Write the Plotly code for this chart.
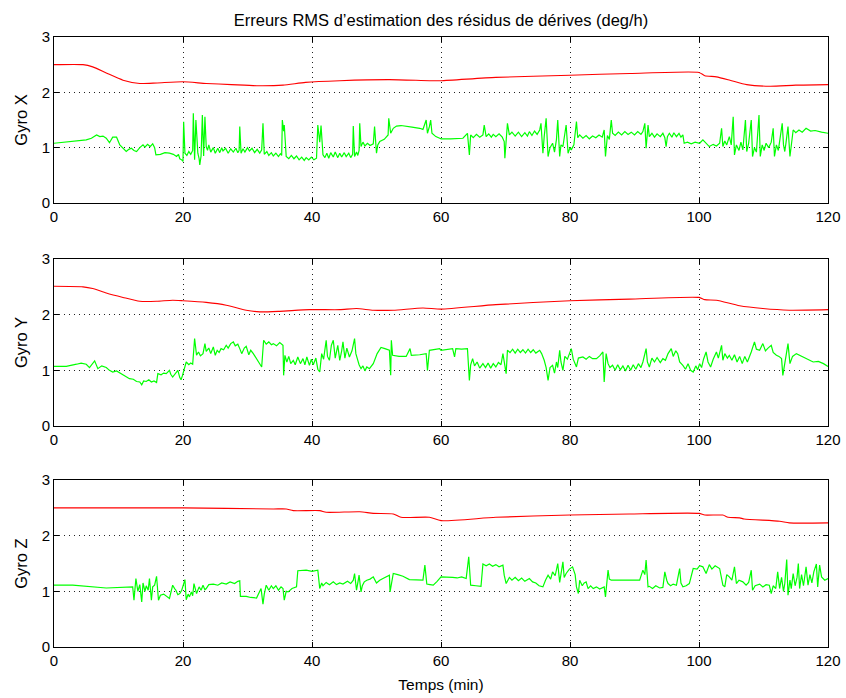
import plotly.graph_objects as go

# ---------------- data ----------------
x_ticks = [0, 20, 40, 60, 80, 100, 120]
y_ticks = [0, 1, 2, 3]
gyro_names = ["Gyro X", "Gyro Y", "Gyro Z"]
title_text = "Erreurs RMS d’estimation des résidus de dérives (deg/h)"
x_title = "Temps (min)"

# red curves (theoretical RMS)
rx_t = [0, 4.5, 6, 8.1, 10.7, 13.3, 16, 20, 23.6, 27.5, 31.4, 35.5, 39, 44.3, 52, 58.2, 60, 68.5, 80, 89.3, 100, 100.9, 102.7, 104.8, 107.4, 111, 115, 120]
rx_v = [2.50, 2.50, 2.46, 2.35, 2.22, 2.16, 2.17, 2.19, 2.16, 2.14, 2.12, 2.13, 2.18, 2.21, 2.23, 2.21, 2.21, 2.27, 2.31, 2.34, 2.36, 2.30, 2.28, 2.22, 2.14, 2.11, 2.13, 2.14]

ry_t = [0, 4.5, 6, 8.1, 10.7, 13.3, 15.9, 18.4, 20, 23.6, 26.7, 29.8, 31.9, 35, 39.6, 44.3, 46.9, 49.5, 52.6, 57.2, 60, 68.5, 80, 89.2, 100, 100.9, 102.7, 106.3, 109.9, 114, 120]
ry_v = [2.51, 2.50, 2.47, 2.39, 2.31, 2.24, 2.24, 2.26, 2.25, 2.22, 2.17, 2.08, 2.05, 2.06, 2.09, 2.09, 2.11, 2.08, 2.08, 2.12, 2.10, 2.18, 2.25, 2.28, 2.31, 2.27, 2.26, 2.16, 2.11, 2.08, 2.09]

rz_t = [0, 20, 34, 36, 37.1, 41.2, 42.2, 47.4, 49.5, 52.6, 53.8, 58.2, 60, 68.5, 80, 89.2, 100, 100.9, 103.7, 104.5, 106.3, 107, 112.5, 114, 120]
rz_v = [2.50, 2.50, 2.48, 2.48, 2.45, 2.45, 2.42, 2.43, 2.40, 2.39, 2.33, 2.33, 2.27, 2.33, 2.37, 2.39, 2.40, 2.37, 2.37, 2.33, 2.32, 2.30, 2.26, 2.23, 2.23]

# green curves (estimated RMS errors), (time, value) pairs
gx_pts = [
    (0, 1.08), (1.5, 1.10), (2.9, 1.11), (4, 1.12), (5, 1.14), (5.8, 1.17), (6.6, 1.23), (7.1, 1.20), (7.6, 1.21), (8.1, 1.17),
    (8.6, 1.09), (9.1, 1.19), (9.7, 1.19), (10.2, 1.05), (10.7, 0.99), (11.2, 0.93), (11.6, 0.97), (12, 0.99), (12.4, 0.95),
    (12.8, 0.93), (13.3, 1.00), (13.8, 1.05), (14.1, 1.01), (14.5, 1.06), (14.9, 1.02), (15.3, 1.07), (15.6, 1.00), (15.8, 0.87),
    (16.5, 0.88), (17.2, 0.91), (17.9, 0.90), (18.5, 0.88), (19, 0.84), (19.3, 0.88), (19.5, 0.80), (19.8, 0.78), (20, 0.75),
    (20.1, 1.47), (20.3, 0.90), (20.6, 0.86), (20.9, 0.93), (21.2, 0.88), (21.5, 0.95), (21.6, 1.62), (21.8, 0.78), (22.0, 1.50),
    (22.2, 1.10), (22.3, 0.90), (22.5, 0.80), (22.6, 0.69), (22.8, 0.85), (23.0, 1.59), (23.2, 0.85), (23.4, 1.56), (23.6, 1.02),
    (23.8, 0.95), (24.0, 1.05), (24.3, 0.92), (24.7, 1.00), (25.0, 0.90), (25.4, 0.99), (25.7, 0.91), (26.0, 1.00), (26.2, 0.94),
    (26.6, 0.99), (27, 0.90), (27.4, 0.98), (27.8, 0.92), (28.2, 0.99), (28.5, 0.91), (28.7, 0.95), (28.8, 1.38), (29.0, 0.90),
    (29.3, 0.98), (29.6, 0.92), (30.0, 1.00), (30.3, 0.94), (30.7, 0.99), (31.1, 0.91), (31.5, 0.97), (31.9, 0.90), (32.2, 0.96),
    (32.4, 1.44), (32.6, 0.88), (33.0, 0.93), (33.3, 0.86), (33.7, 0.91), (34, 0.85), (34.4, 0.90), (34.8, 0.84), (35.1, 0.89),
    (35.3, 0.86), (35.4, 1.50), (35.6, 1.30), (35.7, 1.41), (36.0, 0.84), (36.4, 0.80), (36.8, 0.86), (37.2, 0.80), (37.6, 0.85),
    (38.0, 0.78), (38.4, 0.83), (38.8, 0.77), (39.1, 0.82), (39.5, 0.78), (39.9, 0.83), (40.3, 0.78), (40.7, 0.81), (40.9, 1.41),
    (41.2, 1.10), (41.4, 1.40), (41.7, 0.87), (42.0, 0.82), (42.3, 0.90), (42.6, 0.81), (42.9, 0.91), (43.3, 0.83), (43.6, 0.92),
    (44.0, 0.82), (44.3, 0.90), (44.6, 0.83), (45.0, 0.91), (45.3, 0.84), (45.7, 0.90), (46.0, 0.82), (46.3, 0.88), (46.4, 1.39),
    (46.6, 0.84), (46.9, 0.92), (47.1, 0.86), (47.3, 0.95), (47.4, 1.44), (47.6, 1.02), (47.9, 1.10), (48.2, 1.03), (48.6, 1.08),
    (49.0, 1.04), (49.5, 1.07), (49.7, 1.38), (50, 0.90), (50.2, 1.05), (50.5, 1.11), (51.2, 1.15), (51.8, 1.23), (51.9, 1.53),
    (52.2, 1.26), (52.6, 1.35), (53.1, 1.39), (53.8, 1.40), (54.6, 1.38), (55.5, 1.37), (56.7, 1.35), (57.2, 1.33), (57.7, 1.50),
    (57.9, 1.26), (58.2, 1.38), (58.4, 1.50), (58.6, 1.26), (59.2, 1.20), (59.8, 1.17),
    (60, 1.16), (61.5, 1.16), (63.4, 1.17), (64.1, 1.26), (64.4, 0.87), (64.6, 1.23), (65.0, 1.18), (65.5, 1.24), (66.0, 1.19),
    (66.5, 1.23), (66.7, 1.41), (67, 1.20), (67.4, 1.25), (67.8, 1.19), (68.1, 1.24), (68.5, 1.20), (69.0, 1.25), (69.5, 1.19),
    (69.8, 1.11), (69.9, 0.81), (70.3, 1.44), (70.6, 1.23), (71.0, 1.28), (71.5, 1.21), (72.0, 1.28), (72.5, 1.20), (73.0, 1.27),
    (73.4, 1.21), (73.7, 1.29), (74.1, 1.22), (74.5, 1.30), (74.9, 1.24), (75.3, 1.32), (75.5, 1.44), (75.8, 0.90), (76.0, 1.20),
    (76.3, 1.53), (76.6, 0.84), (76.9, 1.00), (77.3, 1.08), (77.6, 0.92), (77.9, 1.15), (78.1, 1.50), (78.4, 0.84), (78.6, 1.05),
    (78.9, 1.02), (79.1, 1.20), (79.4, 1.41), (79.7, 0.90), (80.0, 1.00), (80.2, 0.96), (80.6, 1.05), (81, 1.47), (81.2, 1.18),
    (81.5, 1.23), (82.0, 1.17), (82.5, 1.22), (83.0, 1.16), (83.5, 1.21), (84, 1.18), (84.5, 1.23), (85.0, 1.19), (85.3, 1.32),
    (85.5, 0.84), (85.8, 1.22), (86.1, 1.15), (86.4, 1.50), (86.6, 1.26), (87.0, 1.22), (87.5, 1.28), (88.0, 1.23), (88.5, 1.29),
    (89.0, 1.24), (89.5, 1.28), (90.0, 1.23), (90.5, 1.29), (91.0, 1.24), (91.3, 1.29), (91.6, 1.44), (91.8, 0.99), (92.1, 1.41),
    (92.3, 1.20), (92.7, 1.26), (93.1, 1.19), (93.5, 1.25), (94.0, 1.20), (94.4, 1.26), (94.7, 1.18), (94.9, 1.02), (95.1, 1.20),
    (95.4, 1.26), (95.8, 1.19), (96.1, 1.27), (96.5, 1.20), (96.9, 1.26), (97.2, 1.19), (97.5, 1.23), (97.7, 1.08), (98.2, 1.10),
    (98.8, 1.07), (99.4, 1.10), (100.1, 1.08), (100.6, 1.14), (101.1, 1.08), (101.6, 1.02), (102.2, 1.06), (102.7, 1.03),
    (103.2, 1.08), (103.5, 1.35), (103.7, 1.02), (104.0, 1.12), (104.3, 1.05), (104.7, 1.20), (105.0, 1.05), (105.3, 1.56),
    (105.5, 0.87), (105.8, 1.05), (106.2, 0.95), (106.5, 1.10), (106.8, 0.96), (107.2, 1.50), (107.4, 0.93), (107.7, 1.08),
    (108.1, 1.50), (108.3, 0.84), (108.6, 1.00), (108.9, 0.92), (109.3, 1.59), (109.5, 0.84), (109.8, 1.05), (110.1, 0.95),
    (110.4, 1.08), (110.8, 1.00), (111.2, 1.10), (111.5, 1.35), (111.7, 0.84), (112.0, 1.05), (112.3, 0.95), (112.5, 1.14),
    (112.9, 1.44), (113.1, 1.05), (113.3, 0.93), (113.5, 1.10), (113.8, 1.38), (114.1, 0.84), (114.4, 1.10), (114.6, 1.32),
    (115.0, 1.27), (115.5, 1.32), (116.0, 1.28), (116.6, 1.35), (117.3, 1.30), (118, 1.31), (119, 1.28), (120, 1.26),
]

gy_pts = [
    (0, 1.07), (1.9, 1.07), (3.5, 1.11), (4.2, 1.13), (5, 1.11), (5.5, 1.05), (6.3, 1.17), (6.8, 1.03), (7.4, 1.08), (8.1, 1.05),
    (8.6, 1.00), (9.1, 0.97), (9.7, 0.99), (10.4, 0.94), (11.0, 0.90), (11.7, 0.85), (12.3, 0.84), (12.8, 0.80), (13.3, 0.79),
    (13.6, 0.74), (13.9, 0.81), (14.3, 0.80), (14.7, 0.83), (15.1, 0.79), (15.5, 0.81), (15.9, 0.78), (16.1, 0.94), (16.6, 0.92),
    (17.0, 0.95), (17.4, 0.94), (17.9, 1.00), (18.1, 0.93), (18.4, 0.88), (18.8, 0.95), (19.2, 1.00), (19.5, 0.87), (19.7, 0.83),
    (19.9, 0.90), (20.1, 0.97), (20.3, 1.05), (20.5, 1.15), (20.9, 1.10), (21.2, 1.13), (21.5, 1.11), (21.8, 1.57), (22.1, 1.27),
    (22.4, 1.33), (22.7, 1.26), (23.1, 1.30), (23.4, 1.48), (23.6, 1.34), (24.0, 1.40), (24.3, 1.30), (24.7, 1.42), (25.0, 1.27),
    (25.3, 1.36), (25.6, 1.32), (25.9, 1.39), (26.3, 1.37), (26.7, 1.45), (27.0, 1.40), (27.4, 1.48), (27.8, 1.51), (28.1, 1.44),
    (28.5, 1.47), (28.8, 1.39), (29.1, 1.30), (29.5, 1.40), (29.8, 1.43), (30.2, 1.28), (30.5, 1.36), (30.9, 1.30), (31.3, 1.22),
    (31.6, 1.18), (31.9, 1.11), (32.2, 1.06), (32.5, 1.54), (32.9, 1.47), (33.3, 1.51), (33.7, 1.46), (34, 1.48), (34.5, 1.44),
    (35.0, 1.50), (35.5, 1.45), (35.6, 0.91), (35.8, 1.27), (36.1, 1.15), (36.4, 1.25), (36.7, 1.12), (37.1, 1.18), (37.4, 1.10),
    (37.8, 1.24), (38.2, 1.12), (38.6, 1.21), (38.9, 1.10), (39.2, 1.24), (39.6, 1.09), (39.9, 1.20), (40.2, 1.10), (40.6, 1.22),
    (40.9, 1.02), (41.2, 0.97), (41.5, 1.30), (41.8, 1.20), (42.2, 1.54), (42.4, 1.25), (42.7, 1.18), (43.0, 1.45), (43.3, 1.54),
    (43.6, 1.22), (44.0, 1.45), (44.3, 1.18), (44.6, 1.35), (44.8, 1.51), (45.1, 1.22), (45.4, 1.40), (45.8, 1.24), (46.2, 1.35),
    (46.6, 1.57), (46.8, 1.30), (47.1, 1.18), (47.3, 1.10), (47.6, 1.03), (47.9, 1.08), (48.2, 0.99), (48.5, 1.06), (48.9, 1.03),
    (49.2, 1.08), (49.5, 1.12), (50.1, 1.30), (50.7, 1.41), (51.3, 1.39), (52, 1.36), (52.2, 0.91), (52.3, 1.54), (52.5, 1.27),
    (53.5, 1.25), (54.6, 1.25), (55.2, 1.39), (55.4, 1.27), (55.7, 1.27), (56.7, 1.28), (57.7, 1.30), (57.9, 1.00), (58.2, 1.36),
    (59, 1.38), (59.8, 1.39),
    (60, 1.36), (61.8, 1.39), (62.1, 1.24), (62.3, 1.39), (63.2, 1.38), (64.1, 1.39), (64.4, 0.82), (64.6, 1.10), (64.9, 1.21),
    (65.2, 1.08), (65.6, 1.15), (66.0, 1.04), (66.5, 1.12), (66.9, 1.05), (67.3, 1.13), (67.7, 1.04), (68.1, 1.12), (68.5, 1.06),
    (68.9, 1.14), (69.3, 1.10), (69.6, 1.30), (70.1, 0.94), (70.3, 1.36), (70.7, 1.32), (71.1, 1.38), (71.5, 1.31), (71.9, 1.38),
    (72.3, 1.32), (72.7, 1.37), (73.1, 1.31), (73.5, 1.38), (73.9, 1.32), (74.3, 1.37), (74.7, 1.31), (75.3, 1.36), (75.6, 1.30),
    (76, 1.18), (76.3, 1.05), (76.6, 0.82), (76.9, 1.05), (77.3, 1.09), (77.6, 0.95), (77.9, 1.15), (78.1, 1.05), (78.4, 1.36),
    (78.6, 1.15), (78.9, 1.00), (79.2, 1.25), (79.6, 1.20), (80.0, 1.32), (80.2, 1.39), (80.5, 1.20), (81, 1.06), (81.3, 1.22),
    (82, 1.24), (82.5, 1.20), (83.0, 1.25), (83.5, 1.21), (84.1, 1.21), (84.6, 1.26), (85.1, 1.33), (85.3, 0.79), (85.6, 1.30),
    (85.9, 1.12), (86.2, 1.05), (86.6, 1.09), (87.0, 1.00), (87.4, 1.10), (87.8, 1.01), (88.2, 1.08), (88.6, 0.99), (89.0, 1.09),
    (89.4, 1.00), (89.8, 1.10), (90.2, 1.02), (90.6, 1.12), (91.0, 1.05), (91.3, 1.15), (91.8, 1.39), (92.0, 1.15), (92.3, 1.06),
    (92.7, 1.22), (93.1, 1.15), (93.5, 1.23), (94.0, 1.14), (94.4, 1.21), (94.8, 1.18), (95.2, 1.30), (95.7, 1.39), (96.0, 1.25),
    (96.4, 1.35), (96.7, 1.30), (97.0, 1.15), (97.5, 1.09), (97.9, 1.02), (98.3, 1.12), (98.7, 1.00), (99.1, 0.97), (99.5, 1.08),
    (99.8, 1.01), (100.1, 1.12), (100.4, 1.05), (100.7, 1.20), (101.1, 1.33), (101.4, 1.15), (101.8, 1.06), (102.2, 1.20),
    (102.7, 1.33), (103.0, 1.22), (103.5, 1.45), (103.7, 1.18), (104.0, 1.30), (104.4, 1.22), (104.7, 1.27), (105.1, 1.18),
    (105.5, 1.28), (105.9, 1.15), (106.3, 1.25), (106.7, 1.12), (107.1, 1.25), (107.5, 1.15), (108.1, 1.33), (108.6, 1.51),
    (108.9, 1.38), (109.4, 1.36), (109.9, 1.48), (110.3, 1.35), (110.7, 1.40), (111.2, 1.45), (111.5, 1.32), (112, 1.27),
    (112.4, 1.25), (112.8, 1.21), (113, 0.91), (113.3, 1.15), (113.8, 1.48), (114.1, 1.12), (114.5, 1.25), (115.1, 1.30),
    (115.8, 1.26), (116.6, 1.21), (117.2, 1.18), (117.7, 1.15), (118.5, 1.16), (119.3, 1.12), (120, 1.07),
]

gz_pts = [
    (0, 1.11), (2.9, 1.11), (8.1, 1.06), (11.7, 1.07), (12.2, 1.08), (12.4, 0.84), (12.7, 1.23), (13.0, 1.00), (13.3, 1.12),
    (13.6, 0.81), (13.8, 1.15), (14.1, 1.00), (14.3, 1.10), (14.6, 1.02), (14.8, 1.23), (15.1, 0.84), (15.3, 1.08), (15.6, 1.11),
    (15.9, 1.27), (16.2, 0.84), (16.5, 0.93), (17.0, 0.95), (17.4, 0.92), (17.9, 0.87), (18.1, 0.97), (18.4, 1.11), (18.7, 1.05),
    (18.9, 1.02), (19.2, 0.94), (19.5, 0.96), (19.8, 1.02), (20.3, 1.21), (20.5, 0.85), (20.8, 0.95), (21.0, 0.90), (21.3, 0.99),
    (21.5, 0.92), (21.7, 1.14), (21.9, 1.05), (22.1, 0.96), (22.5, 1.08), (22.8, 1.02), (23.1, 1.11), (23.4, 1.03), (23.6, 1.05),
    (24.0, 1.12), (24.7, 1.13), (25.4, 1.11), (26.0, 1.15), (26.7, 1.13), (27.3, 1.17), (28.0, 1.14), (28.5, 1.18), (28.8, 1.19),
    (28.9, 0.91), (29.8, 0.91), (30.5, 0.89), (31.4, 0.88), (32.1, 1.05), (32.4, 0.77), (32.6, 0.95), (32.9, 1.11), (33.3, 1.02),
    (33.7, 1.10), (34, 1.05), (34.4, 1.10), (34.8, 1.02), (35.2, 1.08), (35.5, 1.05), (35.7, 0.84), (36.0, 1.00), (36.3, 0.99),
    (36.9, 1.05), (37.6, 1.08), (37.8, 1.37), (39.1, 1.38), (40.0, 1.36), (40.9, 1.38), (41.2, 1.05), (41.5, 1.15), (41.7, 1.10),
    (42.2, 1.16), (42.7, 1.12), (43.3, 1.17), (43.8, 1.12), (44.3, 1.15), (44.8, 1.13), (45.5, 1.18), (46.0, 1.14), (46.4, 1.20),
    (46.6, 1.32), (46.9, 1.02), (47.1, 1.15), (47.3, 1.29), (47.6, 0.99), (47.8, 1.10), (48.1, 1.17), (48.5, 1.20), (49.0, 1.22),
    (49.5, 1.26), (50, 1.15), (50.5, 1.20), (51.0, 1.23), (51.5, 1.26), (52, 1.29), (52.1, 0.99), (52.6, 1.32), (53.3, 1.30),
    (54.1, 1.27), (55.1, 1.21), (56.2, 1.21), (57.2, 1.20), (57.5, 1.47), (57.8, 1.13), (58.3, 1.12), (58.8, 1.11), (59.4, 1.18),
    (60, 1.26), (61.8, 1.25), (62.5, 1.24), (63.2, 1.26), (63.9, 1.23), (64.3, 1.62), (64.6, 1.11), (65.4, 1.10), (66.2, 1.09),
    (66.5, 1.49), (67.0, 1.46), (67.5, 1.49), (68.0, 1.45), (68.5, 1.48), (69.0, 1.44), (69.6, 1.47), (69.8, 1.29), (70.1, 1.14),
    (70.6, 1.25), (71.0, 1.20), (71.5, 1.25), (72.0, 1.19), (72.5, 1.24), (73.0, 1.18), (73.7, 1.23), (74.2, 1.17), (74.7, 1.15),
    (75.2, 1.10), (75.8, 1.08), (76.2, 1.20), (76.6, 1.29), (77.0, 1.22), (77.3, 1.35), (77.7, 1.28), (78.1, 1.50), (78.4, 1.16),
    (78.9, 1.53), (79.1, 1.25), (79.4, 1.32), (79.9, 1.40), (80.4, 1.44), (80.8, 1.30), (81, 1.08), (81.3, 0.96), (81.5, 1.20),
    (81.9, 1.10), (82.2, 1.15), (82.5, 1.17), (82.8, 1.05), (83.2, 1.10), (83.6, 1.05), (84.1, 1.08), (84.6, 1.04), (85.3, 1.08),
    (85.5, 0.90), (85.9, 1.38), (86.1, 1.22), (86.4, 1.20), (87.2, 1.20), (88.2, 1.19), (89.2, 1.19), (90.0, 1.20), (90.8, 1.20),
    (91.3, 1.38), (91.6, 1.30), (91.8, 1.56), (92.1, 1.08), (92.3, 1.09), (92.8, 1.05), (93.3, 1.10), (93.9, 1.06), (94.4, 1.07),
    (94.7, 1.35), (95.0, 1.20), (95.2, 1.14), (95.6, 1.10), (96.0, 1.13), (96.5, 1.11), (97, 1.41), (97.2, 1.15), (97.5, 1.08),
    (98.0, 1.10), (98.5, 1.14), (99.1, 1.41), (99.7, 1.40), (100.1, 1.46), (100.6, 1.44), (101.1, 1.32), (101.6, 1.48),
    (102.0, 1.40), (102.5, 1.46), (103.2, 1.41), (103.7, 1.11), (104, 1.08), (104.3, 1.30), (104.7, 1.26), (105.1, 1.20),
    (105.5, 1.44), (105.8, 1.14), (106.2, 1.20), (106.8, 1.17), (107.3, 1.11), (107.7, 1.16), (108.1, 1.38), (108.3, 1.02),
    (108.7, 1.10), (109.4, 1.13), (109.9, 1.08), (110.4, 1.12), (110.9, 1.11), (111.2, 0.96), (111.5, 1.10), (111.9, 1.05),
    (112.2, 1.35), (112.5, 1.05), (112.8, 1.25), (113.1, 1.00), (113.3, 1.14), (113.6, 1.57), (113.8, 0.93), (114.1, 1.20),
    (114.3, 1.05), (114.6, 1.32), (114.9, 1.10), (115.2, 1.25), (115.4, 1.50), (115.6, 1.05), (115.9, 1.30), (116.2, 1.10),
    (116.6, 1.44), (116.9, 1.11), (117.2, 1.30), (117.5, 1.15), (117.8, 1.35), (118.2, 1.49), (118.4, 1.08), (118.7, 1.47),
    (119, 1.26), (119.5, 1.20), (120, 1.23),
]

red_series = [(rx_t, rx_v), (ry_t, ry_v), (rz_t, rz_v)]
green_series = [gx_pts, gy_pts, gz_pts]

# ---------------- figure ----------------
FONT = "Liberation Sans, Arial, Helvetica, sans-serif"
W, H = 846, 698
ml, mr, mt, mb = 54, 18, 37, 51
plot_h = H - mt - mb
panels_px = [(37, 203), (259, 426), (480, 647)]   # (top, bottom) pixel rows of each panel
domains = [[(H - mb - b) / plot_h, (H - mb - t) / plot_h] for (t, b) in panels_px]

fig = go.Figure()
for i in range(3):
    xa = "x" if i == 0 else f"x{i+1}"
    ya = "y" if i == 0 else f"y{i+1}"
    gt = [p[0] for p in green_series[i]]
    gv = [p[1] for p in green_series[i]]
    rt, rv = red_series[i]
    fig.add_trace(go.Scatter(x=gt, y=gv, mode="lines", line=dict(color="#00ff00", width=1.2),
                             xaxis=xa, yaxis=ya, showlegend=False, hoverinfo="skip"))
    fig.add_trace(go.Scatter(x=rt, y=rv, mode="lines",
                             line=dict(color="#ff0000", width=1.1, shape="spline", smoothing=0.6),
                             xaxis=xa, yaxis=ya, showlegend=False, hoverinfo="skip"))

axis_common = dict(showline=True, linecolor="black", linewidth=1, mirror="ticks",
                   ticks="inside", ticklen=5, tickcolor="black", automargin=False,
                   showgrid=True, gridcolor="#222222", griddash="1px,4px", gridwidth=1,
                   zeroline=False, tickfont=dict(family=FONT, size=15, color="black"))

layout = dict(width=W, height=H, margin=dict(l=ml, r=mr, t=mt, b=mb),
              paper_bgcolor="white", plot_bgcolor="white",
              font=dict(family=FONT, size=15, color="black"))
for i in range(3):
    xk = "xaxis" if i == 0 else f"xaxis{i+1}"
    yk = "yaxis" if i == 0 else f"yaxis{i+1}"
    ya = "y" if i == 0 else f"y{i+1}"
    xa = "x" if i == 0 else f"x{i+1}"
    xd = dict(axis_common, range=[0, 120], tickvals=x_ticks, domain=[0, 1], anchor=ya)
    if i == 2:
        xd["title"] = dict(text=x_title, font=dict(family=FONT, size=15.5), standoff=11)
    layout[xk] = xd
    layout[yk] = dict(axis_common, range=[0, 3], tickvals=y_ticks, domain=domains[i], anchor=xa,
                      title=dict(text=gyro_names[i], font=dict(family=FONT, size=16.5), standoff=9))
layout["title"] = dict(text=title_text, x=(ml + (W - mr)) / 2 / W, xanchor="center",
                       y=1 - 20 / H, yanchor="middle", font=dict(family=FONT, size=16.5))
fig.update_layout(**layout)

# the page body has a default 8px margin; remove it so the figure sits at the window origin
fig.write_html("out.html", config={"displayModeBar": False},
               post_script="document.body.style.margin='0';")
